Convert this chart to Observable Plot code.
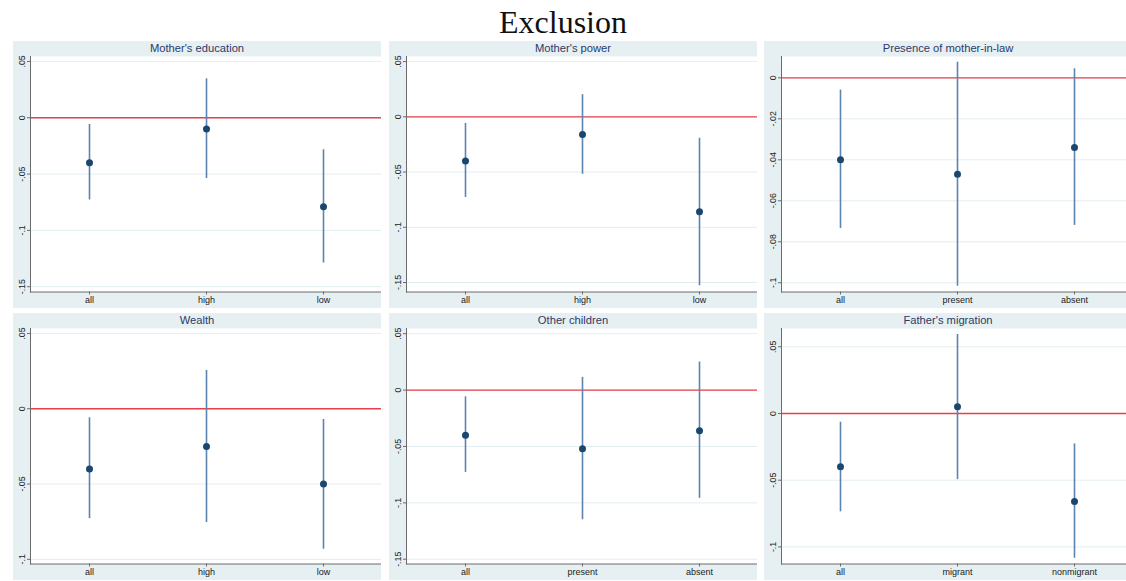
<!DOCTYPE html>
<html><head><meta charset="utf-8">
<script src="https://cdn.jsdelivr.net/npm/d3@7"></script>
<script src="https://cdn.jsdelivr.net/npm/@observablehq/plot@0.6"></script>
<style>
body{margin:0;background:#fff;width:1126px;height:581px;overflow:hidden;position:relative;font-family:"Liberation Sans",Arial,sans-serif}
#title{position:absolute;left:0;top:4px;width:1126px;text-align:center;font-family:"Liberation Serif",serif;font-size:32px;line-height:36px;color:#111}
.panel{position:absolute;width:368px;height:267px;background:#e6eff1;overflow:hidden}
.strip{height:14px;line-height:14px;text-align:center;font-size:11.2px;color:#2b3a6b}
.panel svg{display:block}
</style></head><body>
<div id="title">Exclusion</div>
<script>
const panelTitles = ["Mother's education","Mother's power","Presence of mother-in-law","Wealth","Other children","Father's migration"];
const categories = [
  ["all","high","low"],
  ["all","high","low"],
  ["all","present","absent"],
  ["all","high","low"],
  ["all","present","absent"],
  ["all","migrant","nonmigrant"]
];
const estimates = [
  [-0.040,-0.010,-0.079],
  [-0.040,-0.016,-0.086],
  [-0.040,-0.047,-0.034],
  [-0.040,-0.025,-0.050],
  [-0.040,-0.052,-0.036],
  [-0.040,0.005,-0.066]
];
const ciLow = [
  [-0.073,-0.054,-0.129],
  [-0.073,-0.052,-0.153],
  [-0.0735,-0.1017,-0.072],
  [-0.073,-0.0756,-0.0933],
  [-0.073,-0.115,-0.096],
  [-0.0737,-0.0496,-0.1085]
];
const ciHigh = [
  [-0.006,0.0346,-0.0284],
  [-0.006,0.020,-0.0194],
  [-0.006,0.0076,0.0044],
  [-0.006,0.0255,-0.0071],
  [-0.006,0.0113,0.0249],
  [-0.0065,0.0592,-0.0228]
];
const yTicks = [
  [-0.15,-0.1,-0.05,0,0.05],
  [-0.15,-0.1,-0.05,0,0.05],
  [-0.1,-0.08,-0.06,-0.04,-0.02,0],
  [-0.1,-0.05,0,0.05],
  [-0.15,-0.1,-0.05,0,0.05],
  [-0.1,-0.05,0,0.05]
];
const yRanges = [
  [-0.1547,0.0544],
  [-0.1586,0.0546],
  [-0.1045,0.0104],
  [-0.1031,0.0533],
  [-0.1542,0.0546],
  [-0.1128,0.0637]
];

const lefts = [13,389,764];
const tops = [41,313];
const fmt = d => d === 0 ? "0" : String(d).replace("0.", ".");

panelTitles.forEach((t, i) => {
  const data = categories[i].map((c, j) => ({cat: c, est: estimates[i][j], lo: ciLow[i][j], hi: ciHigh[i][j]}));
  const panel = document.createElement("div");
  panel.className = "panel";
  panel.style.left = lefts[i % 3] + "px";
  panel.style.top = tops[Math.floor(i / 3)] + "px";
  const strip = document.createElement("div");
  strip.className = "strip";
  strip.textContent = t;
  panel.appendChild(strip);
  const chart = Plot.plot({
    width: 368,
    height: 253,
    marginTop: 1,
    marginBottom: 16.5,
    marginLeft: 17,
    marginRight: 0,
    style: {background: "transparent", fontFamily: "Liberation Sans, Arial, sans-serif", overflow: "visible"},
    x: {type: "point", domain: categories[i], padding: 0.5, label: null},
    y: {domain: yRanges[i], label: null},
    marks: [
      Plot.frame({fill: "white", stroke: null}),
      Plot.gridY(yTicks[i], {stroke: "#e3eef0", strokeOpacity: 1}),
      Plot.ruleY([0], {stroke: "#e6404c", strokeWidth: 1.3}),
      Plot.ruleX(data, {x: "cat", y1: "lo", y2: "hi", stroke: "#5d84ae", strokeWidth: 1.6}),
      Plot.dot(data, {x: "cat", y: "est", r: 3.5, fill: "#1a476f", stroke: null}),
      Plot.frame({anchor: "left", stroke: "#6b6b6b"}),
      Plot.frame({anchor: "bottom", stroke: "#6b6b6b"}),
      Plot.axisY({ticks: yTicks[i], tickFormat: fmt, tickRotate: -90, tickSize: 3, tickPadding: 3, fontSize: 8.8, stroke: "#6b6b6b", fill: "#222", label: null}),
      Plot.axisX({tickSize: 3, tickPadding: 2, fontSize: 9, stroke: "#6b6b6b", fill: "#222", label: null})
    ]
  });
  panel.appendChild(chart);
  document.body.appendChild(panel);
});
</script>
</body></html>
